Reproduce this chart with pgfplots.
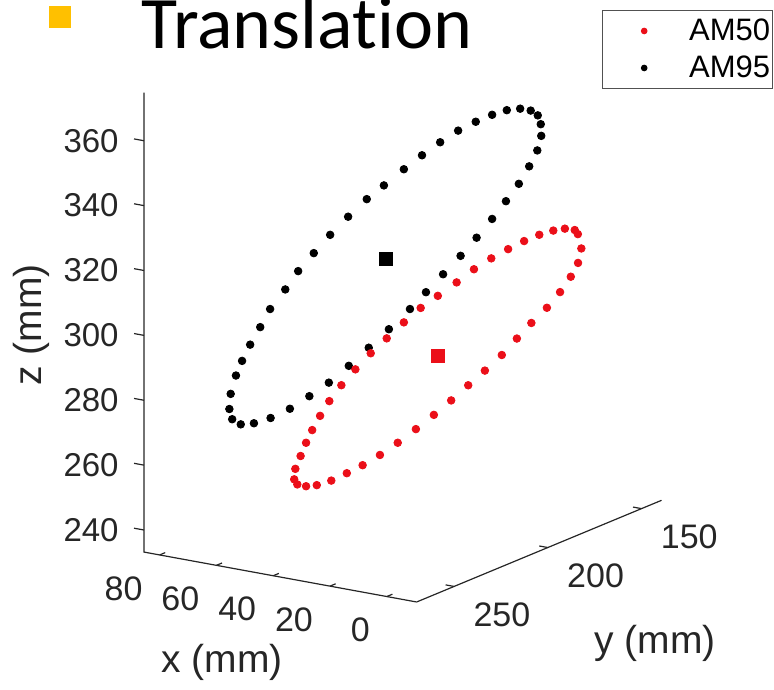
\documentclass[border=0pt]{standalone}
\usepackage{fontspec}
\setmainfont{Liberation Sans}
\newfontfamily\titlefont{Carlito}[Ligatures=NoCommon]
\usepackage{pgfplots}
\pgfplotsset{compat=1.18}
\definecolor{amred}{RGB}{235,15,25}
\definecolor{axcol}{RGB}{38,38,38}
\definecolor{bullet}{RGB}{255,192,0}
\begin{document}
\begin{tikzpicture}
\begin{axis}[
  x={(-1.42pt,0.26pt)}, y={(-0.937pt,-0.389pt)}, z={(0pt,1.622pt)},
  xmin=-10.5, xmax=85.5, ymin=139.3, ymax=270, zmin=233.2, zmax=374.8,
  hide axis, clip=false,
  reverse legend,
  legend style={at={(axis cs:-15.9,88.19,372.96)}, anchor=north east,
    draw=axcol!80, line width=0.5pt, inner xsep=1pt, inner ysep=1pt,
    font=\fontsize{15.5}{17}\selectfont, cells={anchor=west}, row sep=0pt,
    nodes={inner sep=0pt, minimum height=18.5pt}},
  legend image code/.code={\path[draw=none,fill=none] (-20pt,-8pt) rectangle (22.5pt,8pt); \fill (0pt,0pt) circle (1.4pt);},
]
\addplot3[only marks, mark=*, mark size=1.9pt, color=black] coordinates {
(61.9,247.1,271.2) (63.9,251.1,271.5) (65.2,253.7,273.5) (65.6,254.6,276.8)
(65.4,254.2,281.4) (64.6,252.6,286.8) (63.7,250.7,291.0) (62.5,248.2,295.6)
(61.0,245.1,300.5) (59.5,242.1,305.6) (57.2,237.5,310.9) (55.3,233.5,315.9)
(52.9,228.8,320.7) (50.5,223.7,325.5) (47.8,218.2,330.2) (45.0,212.5,334.7)
(42.4,207.3,338.1) (39.4,201.2,342.1) (36.7,195.6,345.5) (34.0,190.0,348.6)
(31.3,184.5,351.3) (28.6,179.2,353.2) (26.2,174.1,354.5) (24.0,169.6,355.2)
(22.0,165.5,355.0) (20.4,162.3,353.9) (19.3,160.2,352.1) (18.9,159.2,349.2)
(18.8,159.1,345.6) (19.4,160.3,341.3) (20.6,162.8,336.8) (22.2,165.9,331.9)
(24.1,169.9,327.2) (26.2,174.1,322.4) (28.5,178.9,317.4) (30.9,183.8,312.6)
(33.5,189.2,307.8) (36.1,194.4,303.1) (38.5,199.3,298.7) (41.7,205.7,293.5)
(44.7,211.9,288.8) (47.7,218.0,284.2) (50.7,224.1,280.0) (53.6,230.1,276.8)
(56.5,236.1,273.9) (59.4,242.0,272.0)
};
\addlegendentry{AM95}
\addplot3[only marks, mark=*, mark size=1.9pt, color=amred] coordinates {
(55.9,234.7,251.9) (55.4,233.8,250.2) (54.1,231.1,249.2) (52.5,227.8,249.0)
(50.3,223.4,249.7) (48.0,218.6,251.2) (45.6,213.8,252.9) (43.0,208.5,255.2)
(40.3,203.1,258.1) (37.6,197.5,261.4) (34.9,192.0,264.9) (32.3,186.7,268.5)
(29.8,181.4,272.3) (27.3,176.3,276.0) (24.7,171.2,280.0) (22.5,166.5,284.3)
(20.3,162.1,288.4) (18.0,157.3,292.3) (16.0,153.3,296.5) (14.4,150.0,300.7)
(13.3,147.8,304.6) (12.8,146.8,308.9) (13.3,147.9,313.5) (13.8,148.8,314.9)
(15.3,151.8,315.8) (17.0,155.4,315.8) (19.1,159.7,315.2) (21.4,164.3,314.0)
(23.8,169.2,312.3) (26.3,174.4,310.3) (28.9,179.7,307.8) (31.5,185.0,304.6)
(34.3,190.8,301.4) (36.9,196.0,298.5) (39.4,201.2,294.9) (42.0,206.4,290.8)
(44.4,211.3,287.0) (46.7,216.0,282.8) (48.8,220.3,278.6) (50.6,224.0,274.3)
(52.0,226.8,270.2) (53.2,229.2,266.2) (54.1,231.1,262.6) (54.9,232.8,258.8)
(55.7,234.4,255.1)
};
\addlegendentry{AM50}
\addplot3[only marks, mark=square*, mark size=3.2pt, color=black, forget plot] coordinates {(42.1,206.7,315.3)};
\addplot3[only marks, mark=square*, mark size=3.3pt, color=amred, forget plot] coordinates {(34.3,190.8,282.9)};
% axis lines
\draw[axcol, line width=0.6pt] (axis cs:-10.5,270,233.2) -- (axis cs:85.5,270,233.2) -- (axis cs:85.5,270,374.8);
\draw[axcol, line width=0.6pt] (axis cs:-10.5,139.3,233.2) -- (axis cs:-10.5,270,233.2);
% z ticks
\pgfplotsinvokeforeach{240,260,280,300,320,340,360}{
  \draw[axcol, line width=0.6pt] (axis cs:85.5,270,#1) -- (axis cs:89,270,#1);
  \node[anchor=east, inner sep=0pt, text=axcol, font=\fontsize{16.5}{18}\selectfont] at ([xshift=-12.5pt]axis cs:85.5,270,#1) {#1};
}
% x ticks
\pgfplotsinvokeforeach{0,20,40,60,80}{
  \draw[axcol, line width=0.6pt] (axis cs:#1,270,233.2) -- (axis cs:#1,267,233.2);
  \node[anchor=north east, inner sep=0pt, text=axcol, font=\fontsize{17}{18}\selectfont] at ([shift={(-8.35pt,-10.5pt)}]axis cs:#1,270,233.2) {#1};
}
% y ticks
\pgfplotsinvokeforeach{150,200,250}{
  \draw[axcol, line width=0.6pt] (axis cs:-10.5,#1,233.2) -- (axis cs:-7.5,#1,233.2);
  \node[anchor=north west, inner sep=0pt, text=axcol, font=\fontsize{17}{18}\selectfont] at ([shift={(9.5pt,-7.75pt)}]axis cs:-10.5,#1,233.2) {#1};
}
\coordinate (TL) at (axis cs:100,324.87,414.22);
\coordinate (BR) at (axis cs:-16.1,87.79,163.28);
\end{axis}
\pgfresetboundingbox
\path[use as bounding box] (TL) rectangle (BR);
\fill[bullet] ([shift={(24.5pt,-3pt)}]TL) rectangle ([shift={(35.5pt,-14pt)}]TL);
\node[anchor=base west, inner sep=0pt, font=\titlefont\fontsize{37}{42}\selectfont] at ([shift={(70.6pt,-24pt)}]TL) {Translation};
\node[inner sep=0pt, rotate=90, text=axcol, font=\fontsize{19.5}{22}\selectfont] at ([shift={(15.5pt,-162.5pt)}]TL) {z (mm)};
\node[inner sep=0pt, text=axcol, font=\fontsize{19.5}{22}\selectfont] at ([shift={(111pt,-331pt)}]TL) {x (mm)};
\node[inner sep=0pt, text=axcol, font=\fontsize{19.5}{22}\selectfont] at ([shift={(327.5pt,-321.5pt)}]TL) {y (mm)};
\end{tikzpicture}
\end{document}
